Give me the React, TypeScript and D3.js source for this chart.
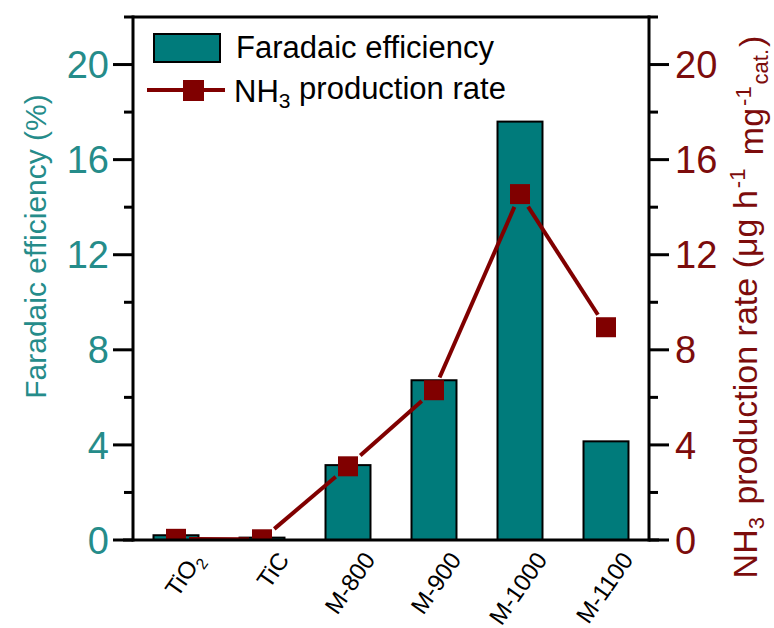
import React from "react";
import * as d3 from "d3";

const categories = ["TiO2", "TiC", "M-800", "M-900", "M-1000", "M-1100"];
const faradaicEfficiency = [0.2, 0.1, 3.15, 6.72, 17.6, 4.15];
const productionRate = [0.05, 0.03, 3.1, 6.3, 14.55, 8.95];
const majorTicks = [0, 4, 8, 12, 16, 20];
const minorTicks = [2, 6, 10, 14, 18, 22];

const W = 774;
const H = 628;
const left = 133;
const right = 649;
const top = 17;
const bottom = 540;

const TEAL = "#007b7b";
const TEAL_TEXT = "#258c8a";
const RED = "#800000";
const RED_TEXT = "#7c0c0c";
const FONT = "'Liberation Sans', Arial, sans-serif";

export default function App() {
  const x = d3
    .scaleBand<string>()
    .domain(categories)
    .range([left, right])
    .paddingInner(0.477)
    .paddingOuter(0.2385);
  const yL = d3.scaleLinear().domain([0, 22]).range([bottom, top]);
  const yR = d3.scaleLinear().domain([0, 22]).range([bottom, top]);

  const pts = categories.map((c, i) => [
    (x(c) as number) + x.bandwidth() / 2,
    yR(productionRate[i]),
  ]);

  const half = 10;
  const gap = 3;
  const segs = [] as { x1: number; y1: number; x2: number; y2: number }[];
  for (let i = 0; i < pts.length - 1; i++) {
    const [ax, ay] = pts[i];
    const [bx, by] = pts[i + 1];
    const dx = bx - ax;
    const dy = by - ay;
    const len = Math.hypot(dx, dy);
    const ux = dx / len;
    const uy = dy / len;
    const off = half / Math.max(Math.abs(ux), Math.abs(uy)) + gap;
    if (len > 2 * off) {
      segs.push({
        x1: ax + ux * off,
        y1: ay + uy * off,
        x2: bx - ux * off,
        y2: by - uy * off,
      });
    }
  }

  return (
    <svg
      width={W}
      height={H}
      style={{ position: "absolute", left: 0, top: 0, background: "#fff" }}
      fontFamily={FONT}
    >
      <defs>
        <clipPath id="plotClip">
          <rect x={left} y={top} width={right - left} height={bottom - top} />
        </clipPath>
      </defs>

      {/* bars */}
      {categories.map((c, i) => (
        <rect
          key={c}
          x={x(c)}
          y={yL(faradaicEfficiency[i])}
          width={x.bandwidth()}
          height={bottom - yL(faradaicEfficiency[i])}
          fill={TEAL}
          stroke="#000"
          strokeWidth={2}
        />
      ))}

      {/* line + markers */}
      <g clipPath="url(#plotClip)">
        {segs.map((s, i) => (
          <line
            key={i}
            x1={s.x1}
            y1={s.y1}
            x2={s.x2}
            y2={s.y2}
            stroke={RED}
            strokeWidth={4}
          />
        ))}
        {pts.map(([px, py], i) => (
          <rect
            key={i}
            x={px - half}
            y={py - half}
            width={half * 2}
            height={half * 2}
            fill={RED}
          />
        ))}
      </g>

      {/* frame */}
      <g stroke="#000" strokeWidth={3} fill="none">
        <line x1={left} y1={top} x2={right} y2={top} />
        <line x1={left - 10} y1={bottom} x2={right + 10} y2={bottom} />
        <line x1={left} y1={top - 1.5} x2={left} y2={bottom + 1.5} />
        <line x1={right} y1={top - 1.5} x2={right} y2={bottom + 1.5} />
      </g>

      {/* axis ticks */}
      <g stroke="#000" strokeWidth={3}>
        {majorTicks.map((t) => (
          <line key={"lM" + t} x1={left - 20} x2={left} y1={yL(t)} y2={yL(t)} />
        ))}
        {minorTicks.map((t) => (
          <line key={"lm" + t} x1={left - 9} x2={left} y1={yL(t)} y2={yL(t)} />
        ))}
        {majorTicks.map((t) => (
          <line key={"rM" + t} x1={right} x2={right + 20} y1={yR(t)} y2={yR(t)} />
        ))}
        {minorTicks.map((t) => (
          <line key={"rm" + t} x1={right} x2={right + 9} y1={yR(t)} y2={yR(t)} />
        ))}
      </g>

      {/* left tick labels */}
      {majorTicks.map((t) => (
        <text
          key={"lt" + t}
          x={left - 24}
          y={yL(t)}
          dy="0.36em"
          textAnchor="end"
          fontSize={38}
          fill={TEAL_TEXT}
        >
          {t}
        </text>
      ))}
      {/* right tick labels */}
      {majorTicks.map((t) => (
        <text
          key={"rt" + t}
          x={right + 26}
          y={yR(t)}
          dy="0.36em"
          textAnchor="start"
          fontSize={38}
          fill={RED_TEXT}
        >
          {t}
        </text>
      ))}

      {/* x tick labels */}
      {categories.map((c) => {
        const cx = (x(c) as number) + x.bandwidth() / 2;
        return (
          <text
            key={"x" + c}
            transform={`translate(${cx + 14},${bottom + 10}) rotate(-55)`}
            textAnchor="end"
            dy="0.72em"
            fontSize={24}
            fill="#000"
          >
            {c === "TiO2" ? (
              <>
                TiO
                <tspan fontSize={16} dy="0.35em">
                  2
                </tspan>
              </>
            ) : (
              c
            )}
          </text>
        );
      })}

      {/* left axis title */}
      <text
        transform={`translate(46,${(top + bottom) / 2 - 32}) rotate(-90)`}
        textAnchor="middle"
        fontSize={30}
        fill={TEAL_TEXT}
      >
        Faradaic efficiency (%)
      </text>

      {/* right axis title */}
      <text
        transform={`translate(757,${307}) rotate(-90)`}
        textAnchor="middle"
        fontSize={34}
        fill={RED_TEXT}
      >
        NH
        <tspan fontSize={22} dy="0.3em">3</tspan>
        <tspan dy="-0.2em" dx="3"> production rate (μg h</tspan>
        <tspan fontSize={22} dy="-0.55em" dx="2">-1</tspan>
        <tspan dy="0.55em" dx="4"> mg</tspan>
        <tspan fontSize={22} dy="-0.55em" dx="2">-1</tspan>
        <tspan fontSize={22} dy="0.75em" dx="2">cat.</tspan>
        <tspan dy="-0.15em" dx="2">)</tspan>
      </text>

      {/* legend */}
      <rect x={154} y={34} width={66} height={28} fill={TEAL} stroke="#000" strokeWidth={2} />
      <text x={236} y={58} fontSize={31} fill="#000">
        Faradaic efficiency
      </text>
      <line x1={147} x2={225} y1={90} y2={90} stroke={RED} strokeWidth={4} />
      <rect x={183} y={80} width={21} height={21} fill={RED} />
      <text x={234} y={102} fontSize={31} fill="#000">
        NH
        <tspan fontSize={21} dy="0.3em">3</tspan>
        <tspan dy="-0.3em"> production rate</tspan>
      </text>
    </svg>
  );
}
